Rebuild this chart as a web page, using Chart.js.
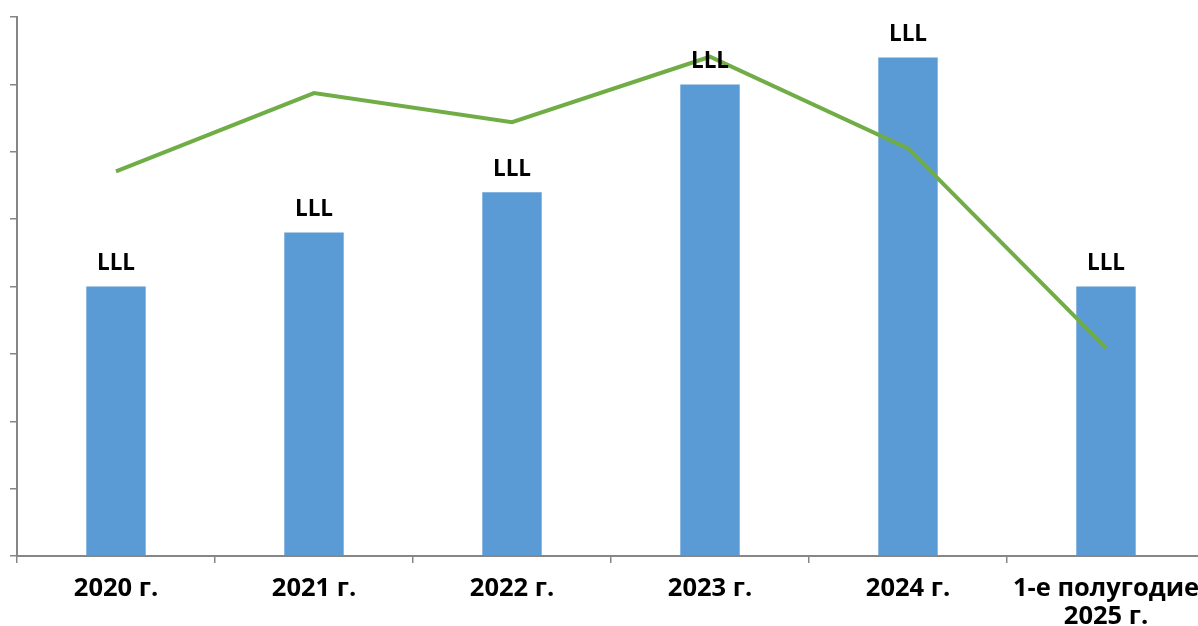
<!DOCTYPE html>
<html>
<head>
<meta charset="utf-8">
<script src="https://cdn.jsdelivr.net/npm/chart.js@4/dist/chart.umd.min.js"></script>
<style>
html, body { margin: 0; padding: 0; background: #fff; overflow: hidden; width: 1198px; height: 626px; }
#wrap { position: absolute; left: 0; top: 0; width: 1205px; height: 626px; }
</style>
</head>
<body>
<div id="wrap"><canvas id="c" width="1205" height="626"></canvas></div>
<script>
const categories = ['2020 г.', '2021 г.', '2022 г.', '2023 г.', '2024 г.', ['1-е полугодие', '2025 г.']];
const barValues = [4.0, 4.8, 5.4, 7.0, 7.4, 4.0];
const lineValues = [5.71, 6.87, 6.44, 7.41, 6.05, 3.09];
const barLabels = ['LLL', 'LLL', 'LLL', 'LLL', 'LLL', 'LLL'];
const yMin = 0;
const yMax = 8;
const yStep = 1;

const FONT = '"Open Sans", "DejaVu Sans", sans-serif';
const AXIS = '#868686';

const barLabelPlugin = {
  id: 'barLabelPlugin',
  afterDatasetsDraw(chart) {
    const meta = chart.getDatasetMeta(1);
    const ctx = chart.ctx;
    ctx.save();
    ctx.font = 'bold 22.5px ' + FONT;
    ctx.fillStyle = '#000';
    ctx.textAlign = 'center';
    ctx.textBaseline = 'middle';
    meta.data.forEach((el, i) => {
      ctx.fillText(barLabels[i], el.x, el.y - 23);
    });
    ctx.restore();
  }
};

new Chart(document.getElementById('c'), {
  data: {
    labels: categories,
    datasets: [
      {
        type: 'line',
        data: lineValues,
        borderColor: '#70AD47',
        backgroundColor: '#70AD47',
        borderWidth: 4,
        pointRadius: 0,
        tension: 0,
        order: 0
      },
      {
        type: 'bar',
        data: barValues,
        backgroundColor: '#5B9BD5',
        borderWidth: 0,
        barPercentage: 0.3,
        categoryPercentage: 1.0,
        order: 1
      }
    ]
  },
  options: {
    responsive: false,
    animation: false,
    layout: { padding: { top: 17, left: 0, right: 0, bottom: 0 } },
    plugins: { legend: { display: false }, tooltip: { enabled: false } },
    scales: {
      x: {
        offset: true,
        grid: { offset: true, drawOnChartArea: false, color: AXIS, tickLength: 7, lineWidth: 1.5 },
        border: { display: true, color: AXIS, width: 2 },
        ticks: {
          color: '#000',
          font: { family: FONT, size: 25.5, weight: 'bold', lineHeight: 1.08 },
          padding: 12,
          maxRotation: 0,
          autoSkip: false
        },
        afterFit(scale) {
          scale.height = 70;
          scale.paddingLeft = 0;
          scale.paddingRight = 0;
        }
      },
      y: {
        min: yMin,
        max: yMax,
        grid: { drawOnChartArea: false, color: AXIS, tickLength: 7, lineWidth: 1.5 },
        border: { display: true, color: AXIS, width: 2 },
        ticks: { display: false, stepSize: yStep },
        afterFit(scale) {
          scale.width = 17;
          scale.paddingTop = 0;
          scale.paddingBottom = 0;
        }
      }
    }
  },
  plugins: [barLabelPlugin]
});
</script>
</body>
</html>
